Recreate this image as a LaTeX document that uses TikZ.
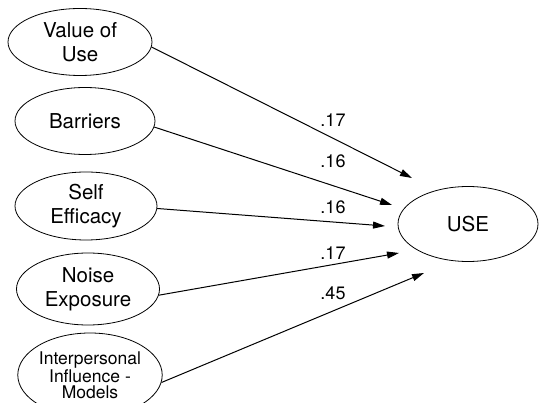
\documentclass[tikz,border=0pt]{standalone}
\usepackage{fontspec}
\setmainfont{TeX Gyre Heros}
\usetikzlibrary{positioning,shapes.geometric,arrows.meta}

\begin{document}
\begin{tikzpicture}[x=1pt,y=-1pt,
		var/.style={ellipse, draw=black, line width=0.8pt, inner sep=0pt, align=center, font=\fontsize{20.5}{24}\selectfont},
		pathline/.style={-{Triangle[length=12pt,width=7pt]}, line width=1pt},
		coef/.style={inner sep=0pt, font=\fontsize{18}{20}\selectfont}]
			\useasboundingbox (0,0) rectangle (547,403);
			\clip (0,0) rectangle (547,403);
			% predictors
			\node[var, minimum width=144pt, minimum height=67pt] (value) at (80,42) {Value of\\Use};
			\node[var, minimum width=140pt, minimum height=67pt] (barriers) at (85,121) {Barriers};
			\node[var, minimum width=142pt, minimum height=68pt] (selfeff) at (86,206) {Self\\Efficacy};
			\node[var, minimum width=143pt, minimum height=72pt] (noise) at (88,289) {Noise\\Exposure};
			\node[var, minimum width=143pt, minimum height=84pt, font=\fontsize{17.5}{16}\selectfont] (interp) at (90,375) {Interpersonal\\Influence -\\Models};
			% outcome
			\node[var, minimum width=140pt, minimum height=75pt] (use) at (468,224) {USE};
			% arrow tips
			\coordinate (t1) at (412,178);
			\coordinate (t2) at (392,205);
			\coordinate (t3) at (385,226);
			\coordinate (t4) at (399,253);
			\coordinate (t5) at (424,273);
			\draw[pathline] (value.-4) -- (t1);
			\draw[pathline] (barriers.-5) -- (t2);
			\draw[pathline] (selfeff.-2) -- (t3);
			\draw[pathline] (noise.-5) -- (t4);
			\draw[pathline] (interp.-6) -- (t5);
			% coefficients
			\node[coef] (c1) at (333,120) {.17};
			\node[coef] (c2) at (333,161) {.16};
			\node[coef] (c3) at (333,207) {.16};
			\node[coef] (c4) at (333,253) {.17};
			\node[coef] (c5) at (333,293) {.45};
		\end{tikzpicture}
\end{document}
